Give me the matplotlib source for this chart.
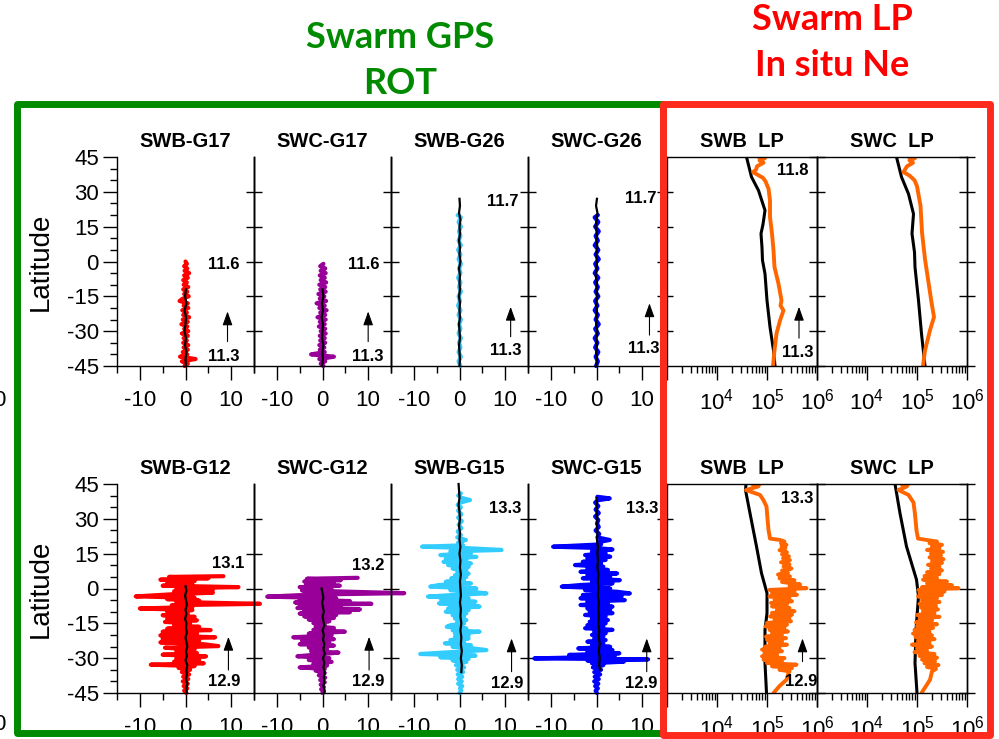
"""
Swarm GPS ROT и LP Ne: профили по широте (два пролёта).
"""

import numpy as np
import matplotlib
matplotlib.use('Agg')
import matplotlib.pyplot as plt
from matplotlib.patches import Rectangle
from matplotlib.ticker import LogLocator, NullFormatter

plt.rcParams['font.family'] = ['Liberation Sans', 'DejaVu Sans']
plt.rcParams['mathtext.fontset'] = 'custom'
plt.rcParams['mathtext.rm'] = 'Liberation Sans'
plt.rcParams['axes.unicode_minus'] = False

# ---- верхний ряд: ROT (TECU/min) по широте ----
g17b_lat = [0, -1, -2, -3, -4, -5, -6, -7, -8, -9,
            -10, -11, -12, -13, -14, -15, -16, -17, -18, -19,
            -20, -21, -22, -23, -24, -25, -26, -27, -28, -29,
            -30, -31, -32, -33, -34, -35, -36, -37, -38, -39,
            -40, -41, -42, -43, -44, -45]
g17b_rot = [0.0, 0.3, -0.3, 0.4, -0.2, 0.8, -0.3, 0.5, -0.5, 0.3,
            -0.4, 0.6, -0.5, 0.4, -0.3, 0.7, -0.6, -1.3, 0.5, -0.4,
            0.6, -0.7, 0.3, -0.5, 0.8, -0.6, 0.5, -0.9, 0.4, -0.3,
            0.6, -0.8, 0.5, -0.4, 0.3, -0.5, 0.6, -0.4, 0.5, -0.6,
            0.4, -1.2, 2.2, -0.8, 0.5, -0.2]
g17c_lat = [-1, -2, -3, -4, -5, -6, -7, -8, -9, -10,
            -11, -12, -13, -14, -15, -16, -17, -18, -19, -20,
            -21, -22, -23, -24, -25, -26, -27, -28, -29, -30,
            -31, -32, -33, -34, -35, -36, -37, -38, -39, -40,
            -41, -42, -43, -44, -45]
g17c_rot = [0.2, -0.5, 0.6, -0.4, 0.7, -0.6, 0.5, -0.4, 0.8, -0.7,
            0.6, -0.5, 0.7, -0.9, 0.4, -0.6, 0.8, -1.3, 0.5, -0.7,
            0.9, -0.5, 0.6, -1.1, 0.7, -0.6, 0.5, -0.8, 0.6, -0.4,
            0.7, -0.6, 0.5, -0.5, 0.6, -0.7, 0.4, -0.6, 0.5, -2.5,
            2.5, -0.7, 0.6, -0.4, 0.2]
g17_blat = [-12, -15, -18, -21, -24, -27, -30, -33, -36, -39, -42, -45]
g17b_bk = [0.1, -0.1, 0.2, -0.2, 0.1, 0.0, -0.2, 0.1, -0.1, 0.2, 0.0, 0.1]
g17c_bk = [0.0, 0.2, -0.1, 0.1, -0.2, 0.1, 0.0, -0.1, 0.2, 0.0, 0.1, -0.1]

g26_lat = [20, 19, 17, 15, 13, 11, 9, 7, 5, 3,
           1, -1, -3, -5, -7, -9, -11, -13, -15, -17,
           -19, -21, -23, -25, -27, -29, -31, -33, -35, -37,
           -39, -41, -43, -45]
g26b_rot = [-0.4, 0.3, -0.2, 0.3, -0.1, 0.2, -0.2, 0.3, -0.3, 0.2,
            -0.2, 0.3, -0.1, 0.2, -0.3, 0.2, -0.1, 0.3, -0.2, 0.1,
            -0.3, 0.2, -0.2, 0.3, -0.1, 0.2, -0.2, 0.3, -0.1, 0.2,
            -0.2, 0.3, -0.2, 0.2]
g26c_rot = [0.3, -0.4, 0.4, -0.3, 0.5, -0.2, 0.3, -0.4, 0.4, -0.2,
            0.5, -0.3, 0.2, -0.4, 0.4, -0.3, 0.3, -0.2, 0.4, -0.3,
            0.2, -0.4, 0.3, -0.2, 0.5, -0.3, 0.3, -0.4, 0.2, -0.3,
            0.4, -0.2, 0.3, -0.1]
g26_blat = [27, 24, 21, 18, 15, 12, 9, 6, 3, 0,
            -3, -6, -9, -12, -15, -18, -21, -24, -27, -30,
            -33, -36, -39, -42, -45]
g26b_bk = [0.0, 0.1, -0.1, 0.2, 0.0, 0.1, -0.1, 0.1, 0.0, 0.2,
           -0.1, 0.1, 0.0, 0.1, -0.1, 0.1, 0.0, 0.1, -0.1, 0.0,
           0.1, -0.1, 0.0, 0.1, 0.0]
g26c_bk = [0.1, -0.1, 0.2, 0.0, -0.2, 0.1, 0.0, 0.2, -0.1, 0.1,
           0.0, -0.2, 0.1, 0.0, 0.2, -0.1, 0.1, 0.0, -0.1, 0.2,
           0.0, 0.1, -0.1, 0.1, 0.0]

# ---- нижний ряд ----
g12b_lat = [5.3, 5.0, 4.4, 3.8, 3.2, 2.6, 1.8, 1.2, 0.6, 0.1,
            -0.5, -1.2, -1.8, -2.5, -3.4, -4.0, -4.6, -5.2, -5.8, -6.6,
            -7.2, -8.0, -8.6, -9.3, -10.0, -10.8, -11.5, -12.2, -13.0, -13.7,
            -14.4, -15.0, -15.8, -16.5, -17.3, -17.9, -18.6, -19.4, -20.2, -21.0,
            -21.8, -22.6, -23.2, -24.0, -24.8, -25.5, -26.3, -27.0, -27.8, -28.5,
            -29.2, -30.0, -30.8, -31.5, -32.2, -32.8, -33.4, -34.2, -35.0, -36.0,
            -37.0, -38.0, -39.0, -40.0, -41.0, -42.0, -43.0, -44.0, -45.0]
g12b_rot = [8.3, -3.6, 5.0, -5.5, 2.0, -4.0, 1.5, -5.0, 11.6, -2.0,
            6.0, -2.5, 6.0, -3.0, -10.9, 2.0, -4.0, 3.0, -2.0, 16.3,
            -3.0, 1.5, -10.0, 1.5, -4.0, 0.5, -5.0, 2.0, -4.0, 2.5,
            -4.5, 1.0, -2.5, 3.0, -4.0, 5.5, -5.0, 2.5, -5.5, 6.5,
            -5.0, 3.0, -5.5, 4.0, 7.2, -4.5, 2.0, -2.0, 2.5, -5.0,
            4.5, -2.0, 3.0, -2.5, 4.0, -7.6, 2.0, -1.5, 1.0, -0.8,
            0.8, -0.5, 0.6, -0.6, 0.5, -0.4, 0.4, -0.3, 0.2]
g12c_lat = [4.6, 4.2, 3.6, 3.0, 2.4, 1.8, 1.2, 0.6, -0.2, -0.8,
            -1.4, -2.0, -2.6, -3.5, -4.2, -4.8, -5.4, -6.0, -6.6, -7.2,
            -7.8, -8.4, -9.0, -9.6, -10.2, -10.8, -11.4, -12.0, -12.7, -13.4,
            -14.1, -14.9, -15.6, -16.3, -17.0, -17.8, -18.6, -19.4, -20.2, -21.0,
            -21.8, -22.4, -23.2, -24.0, -24.6, -25.4, -26.2, -27.0, -27.6, -28.4,
            -29.2, -30.0, -30.8, -31.6, -32.4, -33.2, -34.0, -34.6, -35.4, -36.4,
            -37.4, -38.4, -39.4, -40.4, -41.4, -42.4, -43.4, -44.4, -45.0]
g12c_rot = [7.7, -3.4, 4.0, -4.0, 2.5, -3.6, 3.8, -5.0, 2.0, -4.5,
            6.0, 17.9, -2.0, -12.1, 3.0, -5.0, 6.0, -6.0, 10.7, -5.0,
            4.0, -5.5, 8.2, -4.0, 6.0, -5.0, 3.0, -4.0, 2.5, -3.0,
            1.5, -2.0, 0.5, -1.5, 2.5, -2.0, 4.9, -3.0, 2.0, -6.4,
            2.5, -4.5, 1.5, -5.0, 2.5, -3.0, 1.0, -2.5, 3.5, -1.0,
            -5.5, 1.5, -3.0, 2.0, -2.0, 1.0, -5.0, 0.5, -1.5, 0.5,
            -0.8, 0.6, -0.5, 0.5, -0.4, 0.3, -0.3, 0.2, 0.0]
g12b_blat = [1, -1, -3, -5, -7, -9, -11, -13, -15, -17,
             -19, -21, -23, -25, -27, -29, -31, -33, -35, -37,
             -39, -41, -43, -45]
g12b_bk = [0.0, 0.2, -0.1, 0.1, 0.3, 0.0, 0.2, -0.1, 0.2, 0.1,
           0.3, 0.0, 0.2, 0.4, 0.1, 0.3, 0.0, 0.4, 0.2, 0.3,
           0.1, 0.4, 0.2, 0.3]
g12c_blat = [0, -2, -4, -6, -8, -10, -12, -14, -16, -18,
             -20, -22, -24, -26, -28, -30, -32, -34, -36, -38,
             -40, -42, -44, -45]
g12c_bk = [-0.2, 0.0, 0.2, -0.1, 0.1, 0.3, 0.0, 0.2, 0.4, 0.0,
           0.3, 0.1, 0.4, 0.2, 0.5, 0.1, 0.4, 0.2, 0.5, 0.3,
           0.4, 0.2, 0.5, 0.4]

g15b_lat = [41.0, 40.0, 39.0, 38.1, 37.0, 36.0, 35.0, 33.5, 32.0, 30.5,
            29.0, 27.5, 26.0, 24.5, 23.0, 22.0, 20.9, 19.8, 18.6, 18.0,
            17.5, 16.6, 16.0, 15.2, 14.4, 13.6, 12.8, 12.3, 11.5, 10.8,
            10.1, 9.3, 8.6, 7.9, 7.2, 6.4, 5.7, 5.0, 4.4, 3.6,
            2.9, 2.2, 1.5, 0.8, 0.0, -0.7, -1.4, -2.1, -2.8, -3.5,
            -4.2, -5.0, -5.7, -6.4, -7.1, -7.8, -8.6, -9.3, -10.0, -10.7,
            -11.5, -12.2, -12.9, -13.6, -14.4, -15.1, -15.8, -16.5, -17.2, -18.0,
            -18.6, -19.4, -20.1, -20.8, -21.5, -22.2, -22.9, -23.6, -24.4, -25.1,
            -25.8, -26.5, -27.3, -28.2, -28.9, -29.6, -30.3, -31.0, -31.6, -32.2,
            -33.0, -34.0, -35.0, -36.0, -37.0, -38.0, -39.0, -40.0, -41.0, -42.0,
            -43.0, -44.0, -45.0]
g15b_rot = [0.3, -0.3, 0.5, 2.3, 0.2, -0.4, 0.3, -0.3, 0.4, -0.3,
            0.5, -0.2, 0.4, -0.4, 0.3, -0.5, 1.4, -0.3, 0.8, -8.2,
            0.5, 9.2, -2.0, 2.5, -4.2, 3.7, -3.0, 1.5, -3.5, 2.5,
            -2.5, 2.0, -1.5, 1.5, -0.5, 2.0, -1.0, 1.5, -1.8, 1.0,
            -3.0, 2.5, -4.5, -6.4, 3.7, -2.0, 2.5, 5.9, -1.5, -6.9,
            2.0, -4.0, 3.5, -4.5, 2.0, 4.4, -2.5, 2.0, -3.0, 1.5,
            -1.5, 1.0, -1.0, 1.5, -0.5, 1.0, -2.0, -2.8, 1.5, -1.5,
            4.4, -1.0, 2.0, -1.0, 2.0, -2.0, 1.0, -3.2, 2.5, -1.5,
            3.0, 5.9, -1.0, -8.6, 3.5, -4.2, 2.0, -1.5, 1.5, 0.5,
            -0.8, 1.0, -0.5, 0.8, -0.4, 0.6, -0.3, 0.5, -0.3, 0.6,
            0.1, 0.4, 0.0]
g15c_lat = [39.5, 38.8, 38.0, 37.0, 35.5, 34.0, 32.5, 31.0, 29.5, 28.0,
            26.5, 25.0, 23.5, 22.0, 20.9, 20.0, 19.0, 18.0, 17.5, 16.8,
            16.0, 15.2, 14.4, 13.7, 13.0, 12.3, 11.5, 10.8, 10.1, 9.4,
            8.7, 8.0, 7.2, 6.5, 5.8, 5.1, 4.4, 3.6, 2.9, 2.2,
            1.5, 0.8, 0.0, -0.7, -1.4, -2.1, -2.8, -3.5, -4.2, -5.0,
            -5.7, -6.4, -7.1, -7.8, -8.6, -9.3, -10.0, -10.6, -11.4, -12.1,
            -12.9, -13.6, -14.3, -15.0, -15.8, -16.4, -17.1, -17.8, -18.6, -19.3,
            -20.0, -20.7, -21.5, -22.2, -22.9, -23.6, -24.4, -25.1, -25.8, -26.5,
            -27.2, -27.9, -28.6, -29.3, -30.1, -30.5, -31.0, -31.5, -32.2, -33.0,
            -34.0, -35.0, -36.0, -37.0, -38.0, -39.0, -40.0, -41.0, -42.0, -43.0,
            -44.0, -45.0]
g15c_rot = [0.2, 2.9, 0.3, -0.3, 0.4, -0.2, 0.5, -0.3, 0.4, 0.1,
            0.5, -0.2, 0.6, 0.2, 2.9, 0.5, 1.0, -9.5, -0.5, 3.5,
            -1.0, 2.0, -2.5, 3.0, -2.0, 2.0, -3.0, 1.0, -4.7, 1.5,
            -2.0, 2.5, -3.5, 4.5, -2.0, 3.0, -3.0, 5.1, -1.0, 3.5,
            -3.5, -7.6, 3.0, -2.5, 4.5, 7.3, -3.0, 5.5, -3.5, 6.2,
            -2.0, 2.5, -3.5, 3.5, -2.0, 3.0, -1.5, 3.5, -2.5, 2.0,
            -1.0, 2.5, -1.5, 2.0, -2.0, 1.5, -2.5, 3.5, -0.5, 2.0,
            -1.0, 1.5, -0.5, 2.0, -2.0, 1.5, -1.0, 3.0, -4.0, 3.5,
            -2.0, 5.0, -6.0, 4.0, -13.6, 11.3, -2.0, 6.0, -1.0, 1.5,
            -0.8, 1.0, -0.5, 0.8, -0.4, 0.5, -0.5, 0.4, -0.3, 0.3,
            -0.2, 0.1]
g15b_blat = [45, 42, 39, 36, 33, 30, 27, 24, 21, 18,
             15, 12, 9, 6, 3, 0, -3, -6, -9, -12,
             -15, -18, -21, -24, -27, -30, -33, -36]
g15b_bk = [-0.2, -0.1, 0.0, -0.2, 0.0, 0.1, -0.1, 0.1, 0.0, 0.2,
           0.0, 0.2, 0.1, 0.3, 0.1, 0.2, 0.3, 0.1, 0.3, 0.2,
           0.4, 0.2, 0.4, 0.3, 0.5, 0.3, 0.5, 0.4]
g15c_blat = [39, 36, 33, 30, 27, 24, 21, 18, 15, 12,
             9, 6, 3, 0, -3, -6, -9, -12, -15, -18,
             -21, -24, -27, -30, -33, -35]
g15c_bk = [0.0, 0.1, 0.0, 0.2, 0.1, 0.2, 0.1, 0.3, 0.2, 0.3,
           0.2, 0.4, 0.3, 0.4, 0.3, 0.5, 0.4, 0.5, 0.4, 0.6,
           0.5, 0.7, 0.5, 0.7, 0.6, 0.8]

# ---- LP: log10(Ne, cm^-3); оранжевый - измерение, чёрный - фон ----
lpb1_lat = [45, 44.5, 43.5, 42.5, 41, 39.5, 38.5, 37.5, 36, 34.5,
            31.4, 26.3, 19.1, 12, 4.8, -2.4, -9.6, -16.8, -19, -21.1,
            -25.4, -31.1, -38.3, -45]
lpb1_ne = [4.83, 4.96, 4.85, 4.93, 4.80, 4.78, 4.72, 4.80, 4.92, 4.97,
           5.03, 5.06, 5.06, 5.10, 5.13, 5.15, 5.23, 5.29, 5.27, 5.33,
           5.26, 5.19, 5.15, 5.12]
lpb1_blat = [45, 36.4, 30.6, 22, 16, 12, 6, 0.5, -5.3, -16.8, -28.2, -38.3, -45]
lpb1_bne = [4.59, 4.69, 4.83, 4.96, 4.92, 4.88, 4.90, 4.91, 4.96, 5.00, 5.06, 5.13, 5.16]
lpc1_lat = [45, 44.5, 43.5, 42.5, 41, 38.5, 37, 35, 32.4, 24,
            12.5, 1, -9, -17.6, -23.9, -29.6, -38.3, -45]
lpc1_ne = [4.83, 4.96, 4.85, 4.92, 4.80, 4.73, 4.85, 4.95, 5.00, 5.07,
           5.10, 5.16, 5.23, 5.29, 5.34, 5.26, 5.16, 5.12]
lpc1_blat = [45, 36.4, 29.1, 20.5, 12, 4, -2.4, -16.8, -31.1, -45]
lpc1_bne = [4.59, 4.69, 4.83, 4.93, 4.90, 4.95, 4.96, 5.03, 5.09, 5.16]

lpb2_lat = [45, 44.6, 44.0, 42.4, 40.3, 38, 35.3, 30, 25.2, 21.5,
            20.9, 20.2, 19.5, 18.8, 18.1, 17.4, 16.5, 15.6, 14.7, 13.8,
            13.0, 12.2, 11.3, 10.4, 9.5, 8.6, 7.7, 6.8, 6.0, 5.2,
            4.4, 3.5, 2.8, 1.8, 1.0, 0.1, -0.6, -1.3, -2.0, -2.7,
            -3.4, -4.1, -4.8, -5.5, -6.2, -6.9, -7.7, -8.4, -9.1, -9.8,
            -10.5, -11.3, -12.0, -12.7, -13.4, -14.1, -14.8, -15.6, -16.3, -17.0,
            -17.8, -18.5, -19.2, -20.0, -20.7, -21.4, -22.0, -22.8, -23.5, -24.2,
            -25.0, -25.7, -26.3, -27.0, -27.8, -28.5, -29.2, -30.0, -30.6, -31.4,
            -32.1, -32.8, -33.5, -34.3, -35.0, -35.7, -37.0, -39.3, -42, -45]
lpb2_ne = [4.86, 4.72, 4.83, 4.58, 4.86, 4.93, 4.99, 5.01, 5.03, 5.06,
           5.26, 5.35, 5.28, 5.39, 5.29, 5.37, 5.25, 5.40, 5.30, 5.44,
           5.32, 5.46, 5.28, 5.45, 5.33, 5.49, 5.30, 5.42, 5.22, 5.46,
           5.25, 5.55, 5.30, 5.66, 5.45, 5.79, 5.05, 5.55, 5.10, 5.60,
           5.05, 5.45, 5.15, 5.50, 5.08, 5.40, 5.10, 5.45, 5.20, 5.55,
           5.10, 5.50, 5.06, 5.45, 5.15, 5.48, 5.00, 5.40, 4.97, 5.35,
           5.05, 5.42, 5.10, 5.30, 4.98, 5.38, 5.00, 5.30, 5.05, 5.40,
           4.97, 5.25, 4.90, 5.30, 4.95, 5.20, 4.90, 5.35, 4.93, 5.30,
           5.00, 5.59, 5.10, 5.50, 5.25, 5.45, 5.42, 5.39, 5.25, 5.13]
lpb2_blat = [45, 42.4, 32.4, 18.1, 6.6, -2, -10.6, -17.8, -32.1, -45]
lpb2_bne = [4.58, 4.57, 4.66, 4.79, 4.89, 5.00, 5.00, 4.96, 4.96, 4.99]
lpc2_lat = [45, 44.6, 44.0, 42.4, 40.3, 37, 32, 25, 21.5, 20.9,
            20.2, 19.5, 18.8, 18.1, 17.4, 16.6, 15.8, 15.0, 14.2, 13.4,
            12.6, 11.8, 11.0, 10.2, 9.4, 8.6, 7.8, 7.0, 6.2, 5.4,
            4.6, 3.8, 3.0, 2.2, 1.4, 0.6, 0.1, -0.6, -1.3, -2.0,
            -2.8, -3.4, -4.2, -5.0, -5.8, -6.6, -7.4, -8.2, -9.0, -9.8,
            -10.6, -11.4, -12.2, -13.0, -13.8, -14.6, -15.4, -16.2, -17.0, -17.8,
            -18.6, -19.4, -20.2, -21.0, -21.8, -22.6, -23.4, -24.2, -25.0, -25.8,
            -26.6, -27.4, -28.2, -29.0, -29.8, -30.6, -31.4, -32.2, -33.0, -33.8,
            -34.6, -35.7, -39.3, -42, -45]
lpc2_ne = [4.83, 4.70, 4.80, 4.63, 4.83, 4.93, 4.96, 4.99, 5.02, 5.19,
           5.40, 5.25, 5.50, 5.30, 5.45, 5.20, 5.52, 5.28, 5.48, 5.25,
           5.53, 5.30, 5.50, 5.22, 5.45, 5.28, 5.50, 5.20, 5.45, 5.15,
           5.40, 5.12, 5.60, 5.20, 5.70, 5.10, 5.83, 5.03, 5.55, 5.05,
           5.50, 5.02, 5.40, 5.10, 5.45, 5.05, 5.38, 5.08, 5.42, 5.12,
           5.35, 5.00, 5.45, 5.05, 5.30, 4.98, 5.40, 5.00, 5.32, 4.95,
           5.25, 4.92, 5.30, 4.97, 5.35, 5.02, 5.25, 4.90, 5.30, 5.00,
           5.20, 4.95, 5.35, 5.05, 5.40, 5.10, 5.36, 5.15, 5.43, 5.20,
           5.38, 5.30, 5.26, 5.18, 5.09]
lpc2_blat = [45, 32.4, 18.1, 3.8, -3.4, -17.8, -32.1, -45]
lpc2_bne = [4.56, 4.66, 4.79, 4.99, 5.03, 4.98, 4.96, 5.00]

W, H = 999, 739
fig = plt.figure(figsize=(W / 100, H / 100), dpi=100)


def add_ax(x0, y0, x1, y1):
    # координаты в пикселях картинки
    ax = fig.add_axes([x0 / W, 1 - y1 / H, (x1 - x0) / W, (y1 - y0) / H])
    ax.set_facecolor('none')
    for s in ax.spines.values():
        s.set_linewidth(1.0)
    return ax


def right_ticks(ax, ticks):
    sec = ax.secondary_yaxis('right')
    sec.set_yticks(ticks)
    sec.tick_params(direction='inout', length=12, width=1.0, labelright=False)
    sec.spines['right'].set_linewidth(1.0)


def notes(ax, texts, arrow):
    for s, x, y in texts:
        ax.text(x, y, s, fontsize=12, fontweight='bold', ha='center', va='center')
    x, y0, y1 = arrow
    ax.annotate('', xy=(x, y1), xytext=(x, y0),
                arrowprops=dict(arrowstyle='-|>,head_length=0.7,head_width=0.25',
                                color='k', lw=0.8, shrinkA=0, shrinkB=0,
                                mutation_scale=12))


def rot_panel(x0, y0, title, lat, rot, blat, bk, color, texts, arrow, first):
    ax = add_ax(x0, y0, x0 + 137, y0 + 209)
    ax.plot(rot, lat, color=color, lw=3.0, clip_on=False,
            solid_joinstyle='round', solid_capstyle='round')
    ax.plot(bk, blat, color='k', lw=1.6, clip_on=False)
    ax.set_xlim(-15, 15)
    ax.set_ylim(-45, 45)
    ax.spines['top'].set_visible(False)
    ax.set_xticks([-10, 0, 10])
    ax.set_xticks([-15, -5, 5, 15], minor=True)
    ax.tick_params(axis='x', which='major', direction='out', length=10, width=1.0,
                   labelsize=16, pad=7)
    ax.tick_params(axis='x', which='minor', direction='out', length=5, width=1.0)
    ax.set_yticks(np.arange(-45, 46, 15))
    if first:
        ax.set_yticks(np.arange(-40, 45, 5), minor=True)
        ax.tick_params(axis='y', which='major', direction='out', length=10, width=1.0,
                       labelsize=16, pad=3, right=False)
        ax.tick_params(axis='y', which='minor', direction='out', length=5, width=1.0,
                       right=False)
        ax.set_ylabel('Latitude', fontsize=20, labelpad=9)
    else:
        ax.tick_params(axis='y', left=False, right=False, labelleft=False)
    right_ticks(ax, [-30, -15, 0, 15, 30])
    ax.set_title(title, fontsize=14.5, fontweight='bold', pad=7)
    notes(ax, texts, arrow)
    return ax


def lp_panel(x0, y0, title, lat, ne, blat, bne, texts=None, arrow=None):
    ax = add_ax(x0, y0, x0 + 150, y0 + 209)
    ax.plot(10 ** np.array(bne), blat, color='k', lw=2.2)
    ax.plot(10 ** np.array(ne), lat, color='#ff6600', lw=2.8,
            solid_joinstyle='round', solid_capstyle='round')
    ax.set_xscale('log')
    ax.set_xlim(1e3, 1e6)
    ax.set_ylim(-45, 45)
    ax.set_xticks([1e3, 1e4, 1e5, 1e6])
    ax.set_xticklabels(['', r'$10^4$', r'$10^5$', r'$10^6$'])
    ax.xaxis.set_minor_locator(LogLocator(base=10, subs=np.arange(2, 10)))
    ax.xaxis.set_minor_formatter(NullFormatter())
    ax.tick_params(axis='x', which='major', direction='out', length=10, width=1.0,
                   labelsize=16, pad=6)
    ax.tick_params(axis='x', which='minor', direction='out', length=5, width=1.0)
    ax.set_yticks([])
    right_ticks(ax, np.arange(-45, 46, 15))
    ax.set_title(title, fontsize=14.5, fontweight='bold', pad=7)
    if texts:
        notes(ax, texts, arrow)
    return ax


# верхний ряд
rot_panel(117, 157, 'SWB-G17', g17b_lat, g17b_rot, g17_blat, g17b_bk, '#ff0000',
          [('11.6', 8.3, -1.5), ('11.3', 8.3, -41)], (9.2, -34.5, -21.5), True)
rot_panel(254, 157, 'SWC-G17', g17c_lat, g17c_rot, g17_blat, g17c_bk, '#990099',
          [('11.6', 9.1, -1.5), ('11.3', 9.9, -41)], (10.0, -34.5, -21.5), False)
rot_panel(391, 157, 'SWB-G26', g26_lat, g26b_rot, g26_blat, g26b_bk, '#33ccff',
          [('11.7', 9.4, 25.8), ('11.3', 10.1, -38.4)], (11.2, -32.4, -19.5), False)
rot_panel(528, 157, 'SWC-G26', g26_lat, g26c_rot, g26_blat, g26c_bk, '#0000ff',
          [('11.7', 9.7, 27.0), ('11.3', 10.4, -37.4)], (11.6, -31.7, -18.0), False)
lp_panel(667, 157, 'SWB  LP', lpb1_lat, lpb1_ne, lpb1_blat, lpb1_bne,
         [('11.8', 10 ** 5.52, 39.4), ('11.3', 10 ** 5.62, -39.1)], (10 ** 5.64, -33, -19.5))
lp_panel(817, 157, 'SWC  LP', lpc1_lat, lpc1_ne, lpc1_blat, lpc1_bne)

# нижний ряд
rot_panel(117, 484, 'SWB-G12', g12b_lat, g12b_rot, g12b_blat, g12b_bk, '#ff0000',
          [('13.1', 9.4, 10.8), ('12.9', 8.4, -40.1)], (9.4, -35.1, -20.8), True)
rot_panel(254, 484, 'SWC-G12', g12c_lat, g12c_rot, g12c_blat, g12c_bk, '#990099',
          [('13.2', 10.0, 10.1), ('12.9', 10.0, -40.1)], (10.2, -35.1, -20.8), False)
rot_panel(391, 484, 'SWB-G15', g15b_lat, g15b_rot, g15b_blat, g15b_bk, '#33ccff',
          [('13.3', 10.1, 34.5), ('12.9', 10.5, -40.8)], (11.4, -35.8, -21.5), False)
rot_panel(528, 484, 'SWC-G15', g15c_lat, g15c_rot, g15c_blat, g15c_bk, '#0000ff',
          [('13.3', 10.0, 34.5), ('12.9', 9.8, -40.8)], (11.0, -35.8, -21.5), False)
lp_panel(667, 484, 'SWB  LP', lpb2_lat, lpb2_ne, lpb2_blat, lpb2_bne,
         [('13.3', 10 ** 5.61, 38.8), ('12.9', 10 ** 5.68, -40.1)], (10 ** 5.71, -31.5, -21.5))
lp_panel(817, 484, 'SWC  LP', lpc2_lat, lpc2_ne, lpc2_blat, lpc2_bne)

# рамки и заголовки групп
fig.add_artist(Rectangle((17 / W, 1 - 733 / H), (663 - 17) / W, (733 - 104) / H,
                         transform=fig.transFigure, fill=False, ec='#008a00',
                         lw=5, joinstyle='round', zorder=10))
fig.add_artist(Rectangle((663 / W, 1 - 735 / H), (990 - 663) / W, (735 - 104) / H,
                         transform=fig.transFigure, fill=False, ec='#ff2a1e',
                         lw=5, joinstyle='round', zorder=11))
head = dict(fontsize=26, fontweight='bold', ha='center', va='center',
            family=['Lato', 'DejaVu Sans'])
fig.text(400 / W, 1 - 37 / H, 'Swarm GPS', color='#008a00', **head)
fig.text(400 / W, 1 - 83 / H, 'ROT', color='#008a00', **head)
fig.text(832 / W, 1 - 20 / H, 'Swarm LP', color='#ff0000', **head)
fig.text(832 / W, 1 - 66 / H, 'In situ Ne', color='#ff0000', **head)
# обрезанные подписи у левого края
fig.text(5 / W, 1 - 400 / H, '0', fontsize=16, ha='right', va='center')
fig.text(5 / W, 1 - 725 / H, '0', fontsize=16, ha='right', va='center')

fig.savefig('out.png', dpi=100)
